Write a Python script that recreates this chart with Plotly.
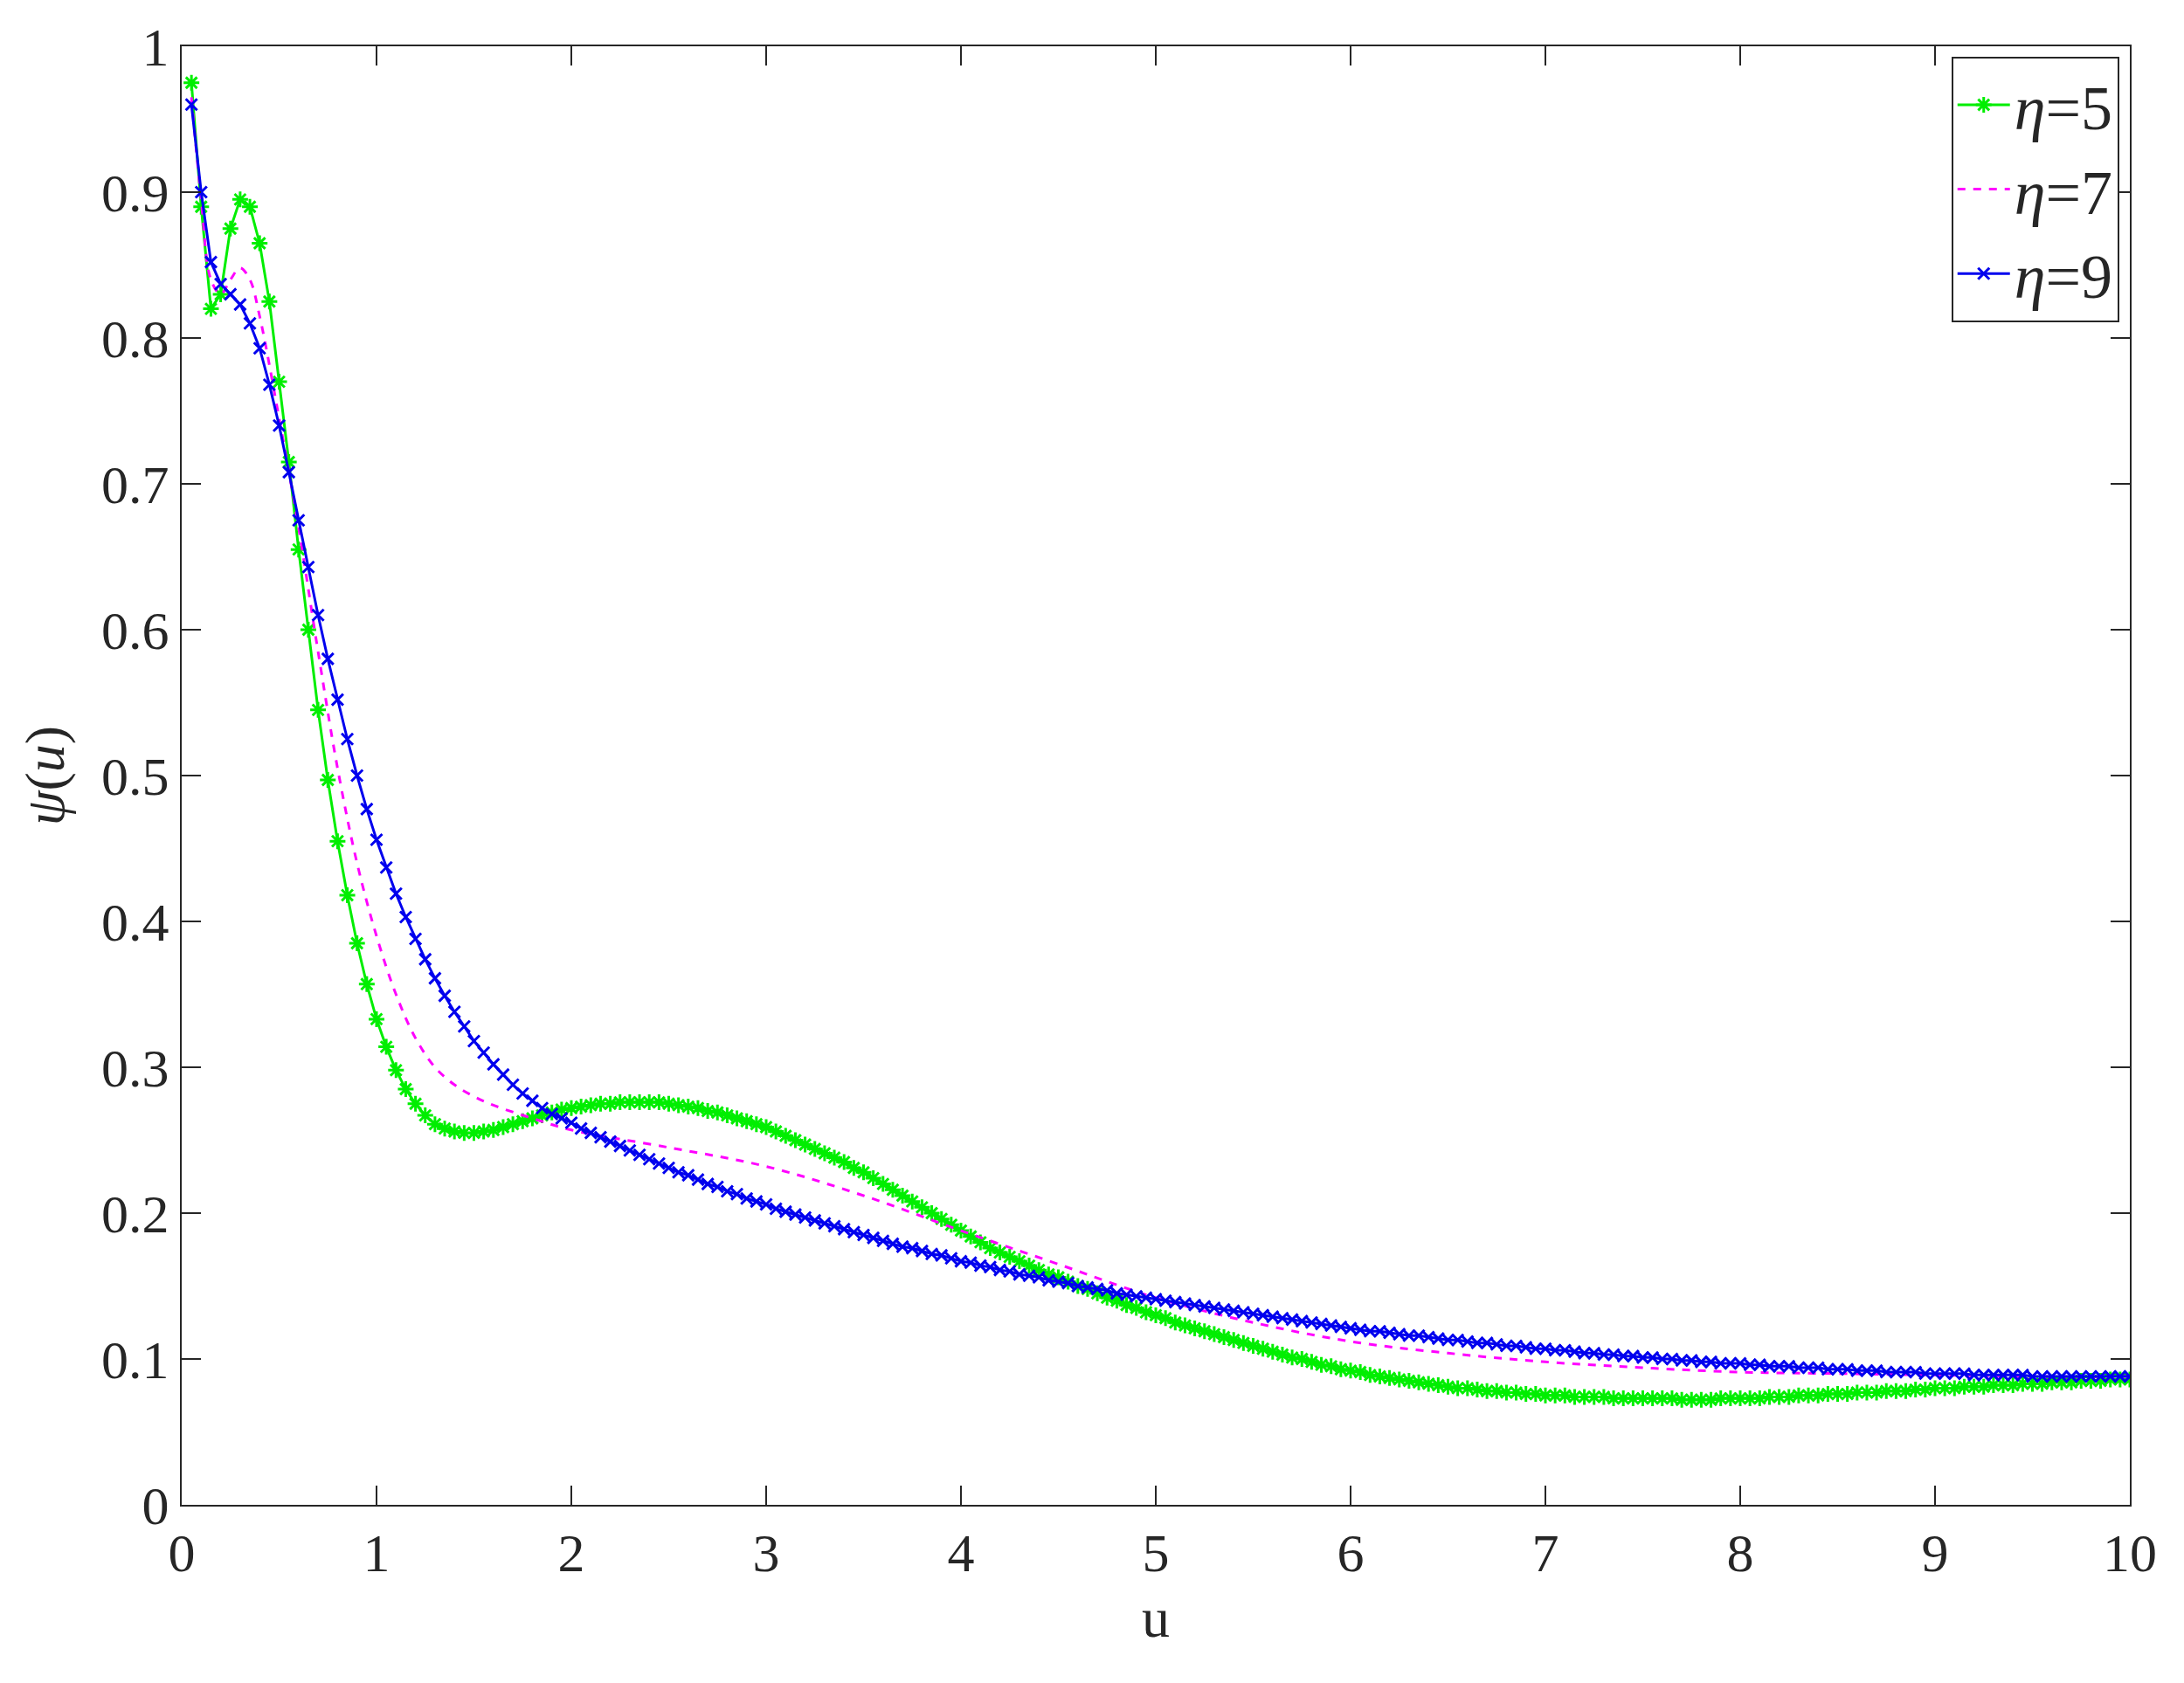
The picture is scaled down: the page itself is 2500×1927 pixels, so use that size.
import plotly.graph_objects as go

# u grid for the marker series (step 0.05)
u = [round(0.05 * i, 2) for i in range(1, 201)]

psi_eta5 = [
    0.975, 0.89, 0.82, 0.83, 0.875, 0.895, 0.89, 0.865, 0.825, 0.77,
    0.715, 0.655, 0.60, 0.545, 0.497, 0.455, 0.418, 0.385, 0.357, 0.333,
    0.314, 0.298, 0.285,
    0.275, 0.267, 0.261, 0.258, 0.256, 0.255, 0.255, 0.256, 0.257, 0.259,
    0.261, 0.263, 0.265, 0.267, 0.269, 0.271, 0.272,
    0.273, 0.274, 0.275, 0.275, 0.276, 0.276, 0.276, 0.276, 0.276, 0.275,
    0.274, 0.273, 0.272, 0.270, 0.269, 0.267, 0.265, 0.263, 0.261, 0.259,
    0.256, 0.253, 0.250, 0.247, 0.244, 0.241, 0.238, 0.235, 0.231, 0.228,
    0.224, 0.220, 0.216, 0.212, 0.208, 0.204, 0.200, 0.196, 0.192, 0.188,
    0.184, 0.180, 0.176, 0.173, 0.170, 0.167, 0.164, 0.161, 0.158, 0.156,
    0.153, 0.150, 0.148, 0.145, 0.142, 0.140, 0.137, 0.135, 0.132, 0.130,
    0.128, 0.125, 0.123, 0.121, 0.119, 0.117, 0.115, 0.113, 0.111, 0.109,
    0.107, 0.105, 0.103, 0.101, 0.100, 0.098, 0.096, 0.095, 0.093, 0.092,
    0.091, 0.089, 0.088, 0.087, 0.086, 0.085, 0.084, 0.083, 0.082, 0.081,
    0.080, 0.080, 0.079, 0.078, 0.078, 0.077, 0.077, 0.076, 0.076, 0.075,
    0.075, 0.075, 0.074, 0.074, 0.074, 0.074, 0.073, 0.073, 0.073, 0.073,
    0.073, 0.073, 0.073, 0.072, 0.072, 0.072, 0.072, 0.073, 0.073, 0.073,
    0.073, 0.073, 0.074, 0.074, 0.074, 0.075, 0.075, 0.075, 0.076, 0.076,
    0.076, 0.077, 0.077, 0.077, 0.078, 0.078, 0.078, 0.079, 0.079, 0.080,
    0.080, 0.080, 0.081, 0.081, 0.081, 0.082, 0.082, 0.082, 0.083, 0.083,
    0.083, 0.084, 0.084, 0.084, 0.085, 0.085, 0.085, 0.086, 0.086, 0.086,
]

psi_eta9 = [
    0.96, 0.90, 0.852, 0.837, 0.83, 0.823, 0.81, 0.793, 0.768, 0.74,
    0.708, 0.675, 0.643, 0.61, 0.58, 0.552, 0.525, 0.50, 0.477, 0.456,
    0.437, 0.419, 0.403, 0.388, 0.374, 0.361, 0.349, 0.338, 0.328, 0.318,
    0.310, 0.302, 0.295, 0.288, 0.282, 0.277, 0.272, 0.268, 0.265, 0.262,
    0.258, 0.255, 0.252, 0.249, 0.246, 0.243, 0.240, 0.237, 0.234, 0.231,
    0.228, 0.226, 0.223, 0.220, 0.218, 0.215, 0.213, 0.210, 0.208, 0.206,
    0.203, 0.201, 0.199, 0.197, 0.195, 0.193, 0.191, 0.189, 0.187, 0.185,
    0.183, 0.181, 0.179, 0.177, 0.176, 0.174, 0.172, 0.171, 0.169, 0.167,
    0.166, 0.164, 0.163, 0.161, 0.160, 0.158, 0.157, 0.156, 0.154, 0.153,
    0.152, 0.150, 0.149, 0.148, 0.147, 0.145, 0.144, 0.143, 0.142, 0.141,
    0.140, 0.139, 0.138, 0.137, 0.136, 0.135, 0.134, 0.133, 0.132, 0.131,
    0.130, 0.129, 0.128, 0.127, 0.126, 0.125, 0.124, 0.123, 0.122, 0.121,
    0.120, 0.119, 0.119, 0.118, 0.117, 0.116, 0.116, 0.115, 0.114, 0.113,
    0.113, 0.112, 0.111, 0.111, 0.110, 0.109, 0.109, 0.108, 0.107, 0.107,
    0.106, 0.106, 0.105, 0.104, 0.104, 0.103, 0.103, 0.102, 0.102, 0.101,
    0.101, 0.100, 0.100, 0.099, 0.099, 0.098, 0.098, 0.097, 0.097, 0.097,
    0.096, 0.096, 0.095, 0.095, 0.095, 0.094, 0.094, 0.094, 0.093, 0.093,
    0.093, 0.092, 0.092, 0.092, 0.091, 0.091, 0.091, 0.091, 0.090, 0.090,
    0.090, 0.090, 0.090, 0.089, 0.089, 0.089, 0.089, 0.089, 0.089, 0.088,
    0.088, 0.088, 0.088, 0.088, 0.088, 0.088, 0.088, 0.088, 0.088, 0.088,
]

# dashed curve, read at coarser points
u_eta7 = [0.05, 0.1, 0.15, 0.2, 0.25, 0.3, 0.35, 0.4, 0.5, 0.6, 0.7, 0.8, 0.9,
          1.0, 1.1, 1.2, 1.3, 1.4, 1.5, 1.6, 1.8, 2.0, 2.5, 3.0, 3.5, 4.0, 4.5,
          5.0, 5.5, 6.0, 6.5, 7.0, 7.5, 8.0, 8.5, 9.0, 9.5, 10.0]
psi_eta7 = [0.965, 0.895, 0.84, 0.83, 0.84, 0.848, 0.84, 0.815, 0.745, 0.67,
            0.585, 0.505, 0.44, 0.39, 0.35, 0.32, 0.30, 0.288, 0.28, 0.274,
            0.265, 0.257, 0.245, 0.232, 0.212, 0.188, 0.165, 0.142, 0.125,
            0.112, 0.104, 0.098, 0.094, 0.091, 0.090, 0.089, 0.088, 0.088]

FONT = "Liberation Serif"

fig = go.Figure()
fig.add_trace(go.Scatter(
    x=u, y=psi_eta5, name="<i>η</i>=5", mode="lines+markers",
    line=dict(color="#00ee00", width=3),
    marker=dict(symbol="asterisk-open", size=15, color="#00ee00", line=dict(width=3, color="#00ee00")),
))
fig.add_trace(go.Scatter(
    x=u_eta7, y=psi_eta7, name="<i>η</i>=7", mode="lines",
    line=dict(color="#ff00ff", width=3, dash="dash", shape="spline"),
))
fig.add_trace(go.Scatter(
    x=u, y=psi_eta9, name="<i>η</i>=9", mode="lines+markers",
    line=dict(color="#0000ee", width=3),
    marker=dict(symbol="x-thin-open", size=13, color="#0000ee", line=dict(width=3, color="#0000ee")),
))

axis_style = dict(
    showline=True, mirror="ticks", linecolor="#262626", linewidth=2,
    ticks="inside", ticklen=22, tickwidth=2, tickcolor="#262626",
    showgrid=False, zeroline=False,
    tickfont=dict(family=FONT, size=62, color="#262626"),
)

fig.update_layout(
    width=2500, height=1927,
    paper_bgcolor="white", plot_bgcolor="white",
    margin=dict(l=200, r=70, t=45, b=212),
    font=dict(family=FONT, color="#262626"),
    xaxis=dict(range=[0, 10], dtick=1,
               title=dict(text="u", font=dict(family=FONT, size=64), standoff=18),
               **axis_style),
    yaxis=dict(range=[0, 1], dtick=0.1, tickformat="~g",
               title=dict(text="<i>ψ</i>(<i>u</i>)", font=dict(family=FONT, size=64), standoff=22),
               **axis_style),
    legend=dict(x=0.9945, y=0.993, xanchor="right", yanchor="top",
                bordercolor="#262626", borderwidth=2, bgcolor="white",
                font=dict(family=FONT, size=72), itemwidth=60, tracegroupgap=0),
)

fig.write_html("out.html")
